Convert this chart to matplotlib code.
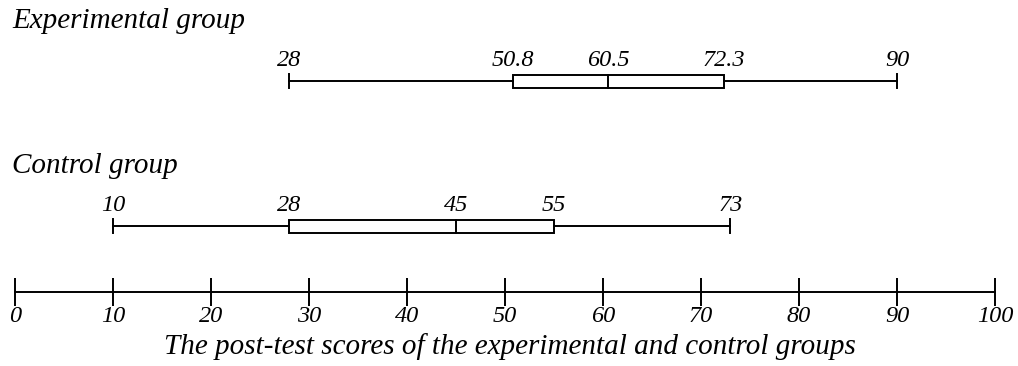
import matplotlib
matplotlib.use("Agg")
import matplotlib.pyplot as plt

# five-number summaries
groups = ["Experimental group", "Control group"]
minimum = [28, 10]
q1 = [50.8, 28]
median = [60.5, 45]
q3 = [72.3, 55]
maximum = [90, 73]
labels = [["28", "50.8", "60.5", "72.3", "90"],
          ["10", "28", "45", "55", "73"]]

ticks = list(range(0, 101, 10))
xlabel = "The post-test scores of the experimental and control groups"

FONT = "Liberation Serif"
ROW_Y = [81, 226]       # whisker line, in pixel rows
BOX_H = 13
CAP_H = 14
LW = 1.4

fig = plt.figure(figsize=(10.18, 3.66), dpi=100)
ax = fig.add_axes([0, 0, 1, 1])
ax.set_xlim(-15 / 9.8, (1018 - 15) / 9.8)
ax.set_ylim(366, 0)

for i, name in enumerate(groups):
    y = ROW_Y[i]
    ax.plot([minimum[i], q1[i]], [y, y], color="black", lw=LW)
    ax.plot([q3[i], maximum[i]], [y, y], color="black", lw=LW)
    for v in (minimum[i], maximum[i]):
        ax.plot([v, v], [y - CAP_H / 2, y + CAP_H / 2], color="black", lw=LW)
    ax.add_patch(plt.Rectangle((q1[i], y - BOX_H / 2), q3[i] - q1[i], BOX_H,
                               fill=False, edgecolor="black", lw=LW))
    ax.plot([median[i], median[i]], [y - BOX_H / 2, y + BOX_H / 2], color="black", lw=LW)
    vals = [minimum[i], q1[i], median[i], q3[i], maximum[i]]
    for v, t in zip(vals, labels[i]):
        ax.text(v, y - 15, t, ha="center", va="baseline", fontsize=17.5,
                family=FONT, style="italic")
    ax.text(-0.3, y - 53, name, ha="left", va="baseline", fontsize=21,
            family=FONT, style="italic")

# bottom scale
for s in ("left", "right", "top"):
    ax.spines[s].set_visible(False)
ax.spines["bottom"].set_position(("data", 292))
ax.spines["bottom"].set_bounds(0, 100)
ax.spines["bottom"].set_linewidth(LW)
ax.set_yticks([])
ax.set_xticks(ticks)
ax.set_xticklabels([str(t) for t in ticks], family=FONT, style="italic", fontsize=17.5)
ax.tick_params(axis="x", direction="inout", length=20, width=LW, pad=0)
ax.text(50.5, 354, xlabel, ha="center", va="baseline", fontsize=21,
        family=FONT, style="italic")

fig.savefig("out.png", dpi=100)
